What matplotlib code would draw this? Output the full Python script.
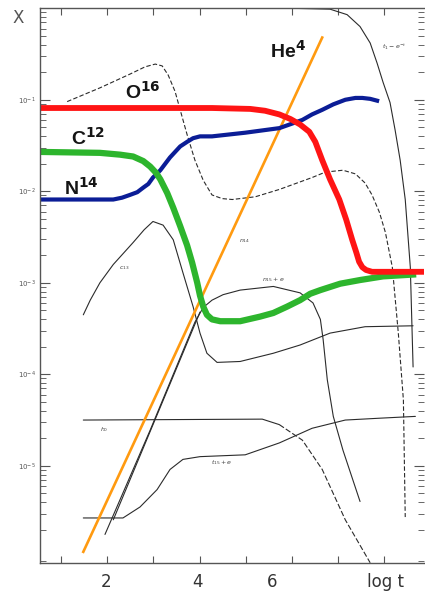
import numpy as np
import matplotlib.pyplot as plt

# abundance tracks: log t on x, log10 X on y
o16_t = [0.54, 2.93, 4.27, 5.10, 5.42, 5.73, 5.97, 6.18, 6.38, 6.51, 6.66, 6.83, 7.03, 7.18,
         7.31, 7.40, 7.46, 7.53, 7.61, 7.74, 7.92, 8.90]
o16_lx = [-1.09, -1.09, -1.09, -1.10, -1.12, -1.16, -1.21, -1.27, -1.35, -1.46, -1.66, -1.87, -2.09, -2.31,
          -2.53, -2.67, -2.77, -2.83, -2.86, -2.88, -2.88, -2.88]

n14_t = [0.54, 1.41, 2.13, 2.32, 2.49, 2.65, 2.78, 2.89, 2.99, 3.15, 3.36, 3.58, 3.73, 3.86, 4.01,
         4.27, 4.99, 5.73, 6.01, 6.23, 6.44, 6.66, 6.90, 7.16, 7.38, 7.53, 7.70, 7.85]
n14_lx = [-2.09, -2.09, -2.09, -2.07, -2.04, -2.01, -1.96, -1.92, -1.85, -1.77, -1.63, -1.51, -1.46, -1.42, -1.40,
          -1.40, -1.36, -1.31, -1.26, -1.22, -1.16, -1.11, -1.05, -1.00, -0.98, -0.98, -0.99, -1.01]

c12_t = [0.54, 1.84, 2.28, 2.56, 2.78, 2.93, 3.06, 3.15, 3.30, 3.43, 3.58, 3.73, 3.84, 3.95, 4.01,
         4.08, 4.16, 4.27, 4.45, 4.88, 5.31, 5.60, 5.90, 6.18, 6.40, 6.62, 7.05, 7.48, 7.98, 8.63]
c12_lx = [-1.57, -1.58, -1.60, -1.62, -1.67, -1.73, -1.80, -1.87, -2.02, -2.18, -2.38, -2.59, -2.78, -3.00, -3.14,
          -3.26, -3.35, -3.40, -3.42, -3.42, -3.37, -3.33, -3.26, -3.19, -3.12, -3.08, -3.01, -2.97, -2.93, -2.91]

he4_t = [1.48, 6.66]
he4_lx = [-5.94, -0.32]

# thin curves of the underlying network
a_t = [1.13, 1.84, 2.49, 2.82, 3.04, 3.19, 3.32, 3.47, 3.58, 3.73, 3.90, 4.08, 4.27, 4.49, 4.71, 5.21, 5.73,
       6.44, 6.73, 7.11, 7.38, 7.59, 7.74, 7.90, 8.03, 8.18, 8.31, 8.42, 8.46]
a_lx = [-1.02, -0.87, -0.72, -0.64, -0.61, -0.63, -0.73, -0.91, -1.11, -1.38, -1.66, -1.88, -2.04, -2.08, -2.09,
        -2.06, -1.98, -1.85, -1.79, -1.77, -1.81, -1.91, -2.04, -2.23, -2.45, -2.83, -3.55, -4.28, -5.56]

top_t = [5.50, 5.97, 6.83, 7.20, 7.48, 7.70, 7.85, 7.98, 8.13, 8.24, 8.35, 8.46, 8.57, 8.63]
top_lx = [-0.00, -0.00, -0.01, -0.07, -0.20, -0.38, -0.60, -0.81, -1.03, -1.33, -1.66, -2.09, -2.83, -3.92]

c13_t = [1.48, 1.63, 1.84, 2.13, 2.56, 2.80, 2.99, 3.21, 3.43, 3.64, 3.86, 4.01, 4.16, 4.38, 4.88, 5.60,
         6.18, 6.83, 7.59, 8.63]
c13_lx = [-3.35, -3.19, -3.00, -2.80, -2.56, -2.42, -2.33, -2.37, -2.53, -2.89, -3.26, -3.55, -3.77, -3.87,
          -3.86, -3.77, -3.68, -3.55, -3.48, -3.47]

n15_t = [1.95, 2.93, 3.90, 4.08, 4.27, 4.51, 4.88, 5.60, 6.18, 6.46, 6.62, 6.68, 6.77, 6.90, 7.11, 7.48]
n15_lx = [-5.75, -4.61, -3.43, -3.27, -3.19, -3.13, -3.08, -3.04, -3.11, -3.22, -3.40, -3.62, -4.06, -4.46,
          -4.83, -5.39]

g2_t = [2.13, 4.01]
g2_lx = [-5.59, -3.32]

h1_t = [1.48, 5.36, 5.73]
h1_lx = [-4.50, -4.49, -4.55]
h1_drop_t = [5.73, 6.23, 6.66, 7.16, 7.70]
h1_drop_lx = [-4.55, -4.72, -5.04, -5.59, -6.06]

t15_t = [1.48, 2.34, 2.71, 3.08, 3.36, 3.64, 4.01, 4.99, 5.73, 6.44, 7.16, 7.90, 8.68]
t15_lx = [-5.57, -5.57, -5.45, -5.26, -5.04, -4.93, -4.90, -4.88, -4.75, -4.59, -4.50, -4.48, -4.46]


def X(lx):
    return 10.0 ** np.asarray(lx)


fig = plt.figure(figsize=(4.25, 6), dpi=100)
ax = fig.add_axes([0.094, 0.062, 0.904, 0.925])
ax.set_yscale('log')
ax.set_xlim(0.54, 8.87)
ax.set_ylim(10 ** -6.06, 10 ** 0.005)

ink = '#2b2b2b'
kw = dict(color=ink, lw=0.8, solid_capstyle='round')
ax.plot(a_t, X(a_lx), ls=(0, (4, 2)), **kw)
ax.plot(top_t, X(top_lx), **kw)
ax.plot(c13_t, X(c13_lx), **kw)
ax.plot(n15_t, X(n15_lx), **kw)
ax.plot(g2_t, X(g2_lx), **kw)
ax.plot(h1_t, X(h1_lx), **kw)
ax.plot(h1_drop_t, X(h1_drop_lx), ls=(0, (5, 2)), **kw)
ax.plot(t15_t, X(t15_lx), **kw)

ax.plot(he4_t, X(he4_lx), color='#ff9a10', lw=1.9)
ax.plot(n14_t, X(n14_lx), color='#0b1d96', lw=3.0, solid_joinstyle='round')
ax.plot(c12_t, X(c12_lx), color='#2db52d', lw=4.5, solid_joinstyle='round')
ax.plot(o16_t, X(o16_lx), color='#ff1414', lw=4.2, solid_joinstyle='round')

# species names
big = dict(fontsize=14, fontweight='bold', color='#151515', family='Liberation Sans')
ax.text(2.78, X(-0.91), 'O$^{\\mathbf{16}}$', ha='center', va='center', **big)
ax.text(1.58, X(-1.42), 'C$^{\\mathbf{12}}$', ha='center', va='center', **big)
ax.text(1.43, X(-1.96), 'N$^{\\mathbf{14}}$', ha='center', va='center', **big)
ax.text(5.92, X(-0.46), 'He$^{\\mathbf{4}}$', ha='center', va='center', **big)

small = dict(fontsize=4.5, color='#444444')
ax.text(2.25, X(-2.85), '$c_{13}$', **small)
ax.text(4.85, X(-2.55), '$n_{14}$', **small)
ax.text(5.35, X(-2.98), '$n_{15}+e$', **small)
ax.text(1.85, X(-4.62), '$h_0$', **small)
ax.text(4.25, X(-4.98), '$t_{15}+e$', **small)
ax.text(7.95, X(-0.45), '$t_1-e^{-t}$', **small)

# axes styling
for side in ['left', 'bottom', 'top']:
    ax.spines[side].set_color('#555555')
    ax.spines[side].set_linewidth(1.0)
ax.spines['right'].set_visible(False)

ax.set_xticks(range(1, 9))
ax.set_xticklabels([])
ax.tick_params(axis='x', which='major', direction='in', length=5, width=0.8,
               color='#555555', top=True, bottom=True)
ax.set_yticks([10.0 ** -k for k in range(1, 6)])
ax.set_yticklabels(['$10^{-%d}$' % k for k in range(1, 6)], fontsize=5, color='#555555')
ax.tick_params(axis='y', which='major', direction='in', length=7, width=0.8,
               color='#555555', left=True, right=True, pad=3)
ax.tick_params(axis='y', which='minor', direction='in', length=4, width=0.7,
               color='#666666', left=True, right=True)

xlab = dict(transform=ax.get_xaxis_transform(), ha='center', va='top',
            fontsize=12, color='#333333')
ax.text(1.97, -0.018, '2', **xlab)
ax.text(3.95, -0.018, '4', **xlab)
ax.text(5.57, -0.018, '6', **xlab)
ax.text(8.03, -0.018, 'log t', **xlab)

fig.text(18 / 425, 1 - 18 / 600, 'X', ha='center', va='center', fontsize=12, color='#555555')

fig.savefig('out.png', dpi=100)
